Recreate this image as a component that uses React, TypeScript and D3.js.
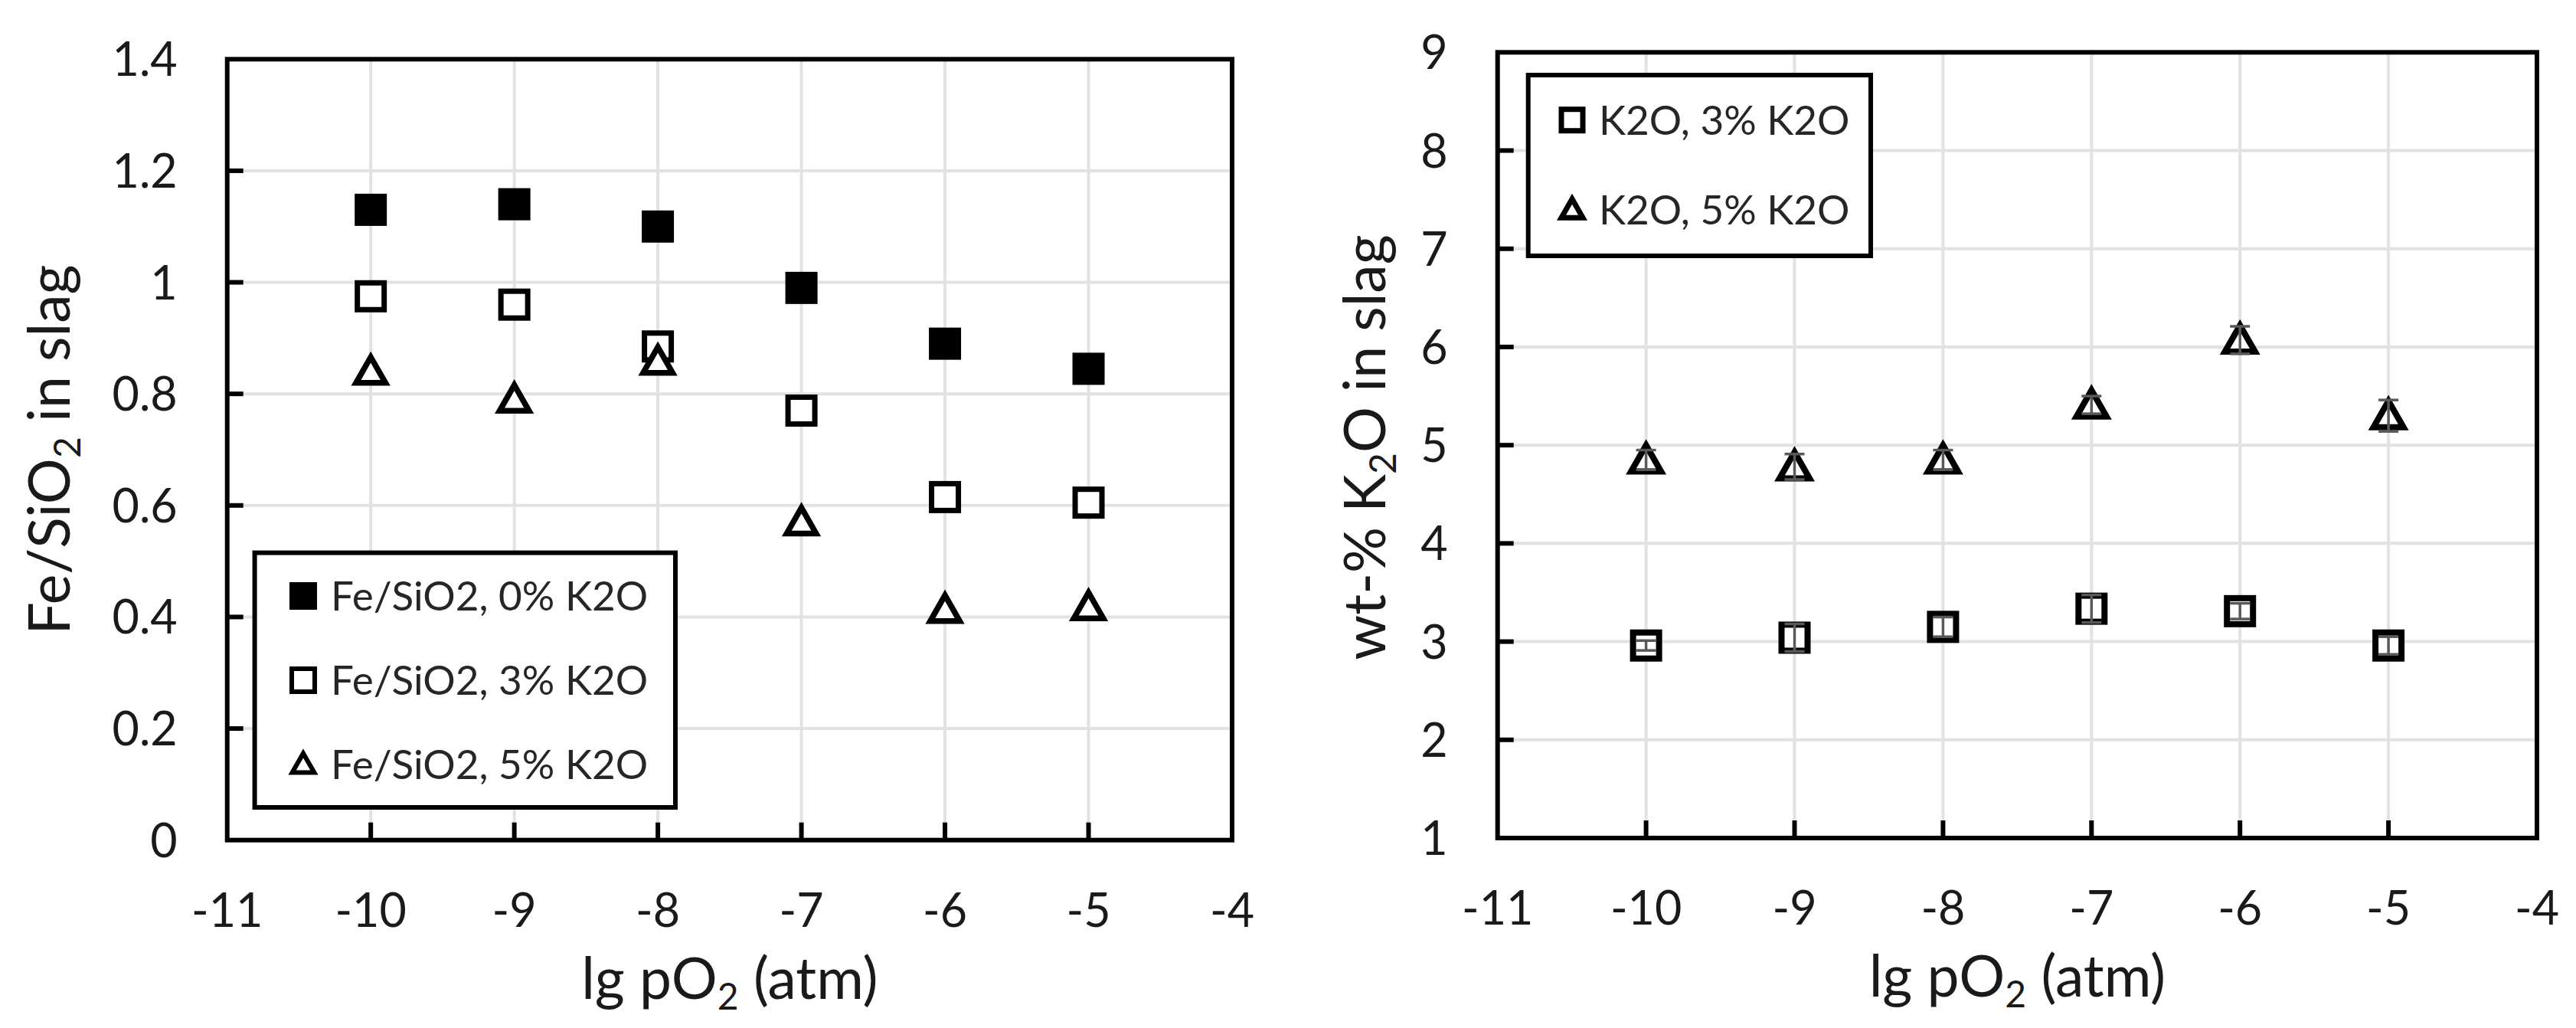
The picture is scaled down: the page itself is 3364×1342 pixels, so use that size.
import React from "react";
import * as d3 from "d3";

// ---------- data ----------
const xTicks = [-11, -10, -9, -8, -7, -6, -5, -4];
const pO2 = [-10, -9, -8, -7, -6, -5];

const leftYTicks = [0, 0.2, 0.4, 0.6, 0.8, 1, 1.2, 1.4];
const rightYTicks = [1, 2, 3, 4, 5, 6, 7, 8, 9];

const feSiO2_0K2O = [1.13, 1.14, 1.1, 0.99, 0.89, 0.845];
const feSiO2_3K2O = [0.975, 0.96, 0.885, 0.77, 0.615, 0.605];
const feSiO2_5K2O = [0.84, 0.79, 0.858, 0.57, 0.413, 0.418];

const k2o_3K2O = [2.96, 3.04, 3.15, 3.335, 3.31, 2.96];
const k2o_3K2O_err = [0.05, 0.14, 0.1, 0.14, 0.08, 0.09];
const k2o_5K2O = [4.85, 4.78, 4.85, 5.41, 6.07, 5.3];
const k2o_5K2O_err = [0.1, 0.13, 0.1, 0.09, 0.14, 0.16];

const leftLegend = ["Fe/SiO2, 0% K2O", "Fe/SiO2, 3% K2O", "Fe/SiO2, 5% K2O"];
const rightLegend = ["K2O, 3% K2O", "K2O, 5% K2O"];

// ---------- styles ----------
const FONT = "Lato, 'Open Sans', 'DejaVu Sans', sans-serif";
const TEXT = "#1a1a1a";
const GRID = "#e2e2e2";
const ERR = "#595959";

type MarkerType = "filledSquare" | "openSquare" | "triangle";

function Marker({ type, cx, cy, size, sw }: { type: MarkerType; cx: number; cy: number; size: number; sw: number }) {
  if (type === "filledSquare") {
    return <rect x={cx - size / 2} y={cy - size / 2} width={size} height={size} fill="#000" />;
  }
  if (type === "openSquare") {
    const s = size - sw;
    return <rect x={cx - s / 2} y={cy - s / 2} width={s} height={s} fill="#fff" stroke="#000" strokeWidth={sw} />;
  }
  const w = size * 0.8;
  const h = size * 0.7;
  const d = `M${cx},${cy - h / 2 - 2} L${cx + w / 2},${cy + h / 2 - 2} L${cx - w / 2},${cy + h / 2 - 2} Z`;
  return <path d={d} fill="#fff" stroke="#000" strokeWidth={sw} strokeLinejoin="miter" />;
}

type Series = {
  values: number[];
  err?: number[];
  type: MarkerType;
  size: number;
  sw: number;
};

type Cfg = {
  x0: number;
  x1: number;
  y0: number;
  y1: number;
  yDomain: [number, number];
  yTicks: number[];
  series: Series[];
  legend: { x: number; y: number; w: number; h: number; rows: number[]; markerX: number; textX: number; size: number; sw: number; types: MarkerType[]; labels: string[] };
  yTitleX: number;
  yTitleCy: number;
  yTitle: [string, string, string];
};

function Chart({ cfg }: { cfg: Cfg }) {
  const x = d3.scaleLinear().domain([xTicks[0], xTicks[xTicks.length - 1]]).range([cfg.x0, cfg.x1]);
  const y = d3.scaleLinear().domain(cfg.yDomain).range([cfg.y1, cfg.y0]);
  const innerX = xTicks.slice(1, -1);
  const innerY = cfg.yTicks.slice(1, -1);
  const lg = cfg.legend;
  const cxMid = (cfg.x0 + cfg.x1) / 2;
  return (
    <g>
      {/* gridlines */}
      {innerX.map((t) => (
        <line key={"gx" + t} x1={x(t)} x2={x(t)} y1={cfg.y0} y2={cfg.y1} stroke={GRID} strokeWidth={4} />
      ))}
      {innerY.map((t) => (
        <line key={"gy" + t} x1={cfg.x0} x2={cfg.x1} y1={y(t)} y2={y(t)} stroke={GRID} strokeWidth={4} />
      ))}
      {/* ticks */}
      {innerX.map((t) => (
        <line key={"tx" + t} x1={x(t)} x2={x(t)} y1={cfg.y1} y2={cfg.y1 - 23} stroke="#000" strokeWidth={6} />
      ))}
      {innerY.map((t) => (
        <line key={"ty" + t} x1={cfg.x0} x2={cfg.x0 + 21} y1={y(t)} y2={y(t)} stroke="#000" strokeWidth={6} />
      ))}
      {/* border */}
      <rect x={cfg.x0} y={cfg.y0} width={cfg.x1 - cfg.x0} height={cfg.y1 - cfg.y0} fill="none" stroke="#000" strokeWidth={6} />
      {/* tick labels */}
      {xTicks.map((t) => (
        <text key={"lx" + t} x={x(t)} y={cfg.y1 + 113} textAnchor="middle" fontSize={61} fill={TEXT} fontFamily={FONT}>
          {String(t)}
        </text>
      ))}
      {cfg.yTicks.map((t) => (
        <text key={"ly" + t} x={cfg.x0 - 65} y={y(t) + 22} textAnchor="end" fontSize={61} fill={TEXT} fontFamily={FONT}>
          {String(t)}
        </text>
      ))}
      {/* x title */}
      <text x={cxMid} y={cfg.y1 + 207} textAnchor="middle" fontSize={75} fill={TEXT} fontFamily={FONT}>
        <tspan>lg pO</tspan>
        <tspan fontSize={48} dy={14}>2</tspan>
        <tspan dy={-14}> (atm)</tspan>
      </text>
      {/* y title */}
      <text transform={`translate(${cfg.yTitleX},${cfg.yTitleCy}) rotate(-90)`} textAnchor="middle" fontSize={75} fill={TEXT} fontFamily={FONT}>
        <tspan>{cfg.yTitle[0]}</tspan>
        <tspan fontSize={48} dy={14}>{cfg.yTitle[1]}</tspan>
        <tspan dy={-14}>{cfg.yTitle[2]}</tspan>
      </text>
      {/* legend */}
      <rect x={lg.x} y={lg.y} width={lg.w} height={lg.h} fill="#fff" stroke="#000" strokeWidth={6} />
      {lg.labels.map((l, i) => (
        <g key={"lg" + i}>
          <Marker type={lg.types[i]} cx={lg.markerX} cy={lg.rows[i]} size={lg.size} sw={lg.sw} />
          <text x={lg.textX} y={lg.rows[i] + 19} fontSize={53} fill="#262626" fontFamily={FONT}>
            {l}
          </text>
        </g>
      ))}
      {/* markers */}
      {cfg.series.map((s, si) => (
        <g key={"s" + si}>
          {s.values.map((v, i) => (
            <Marker key={i} type={s.type} cx={x(pO2[i])} cy={y(v)} size={s.size} sw={s.sw} />
          ))}
          {s.err &&
            s.values.map((v, i) => {
              const e = s.err![i];
              const cx = x(pO2[i]);
              const ya = y(v + e);
              const yb = y(v - e);
              return (
                <g key={"e" + i} stroke={ERR} strokeWidth={3.5}>
                  <line x1={cx} x2={cx} y1={ya} y2={yb} />
                  <line x1={cx - 13} x2={cx + 13} y1={ya} y2={ya} />
                  <line x1={cx - 13} x2={cx + 13} y1={yb} y2={yb} />
                </g>
              );
            })}
        </g>
      ))}
    </g>
  );
}

const leftCfg: Cfg = {
  x0: 296.7,
  x1: 1609,
  y0: 77.3,
  y1: 1096.7,
  yDomain: [0, 1.4],
  yTicks: leftYTicks,
  series: [
    { values: feSiO2_0K2O, type: "filledSquare", size: 42, sw: 6 },
    { values: feSiO2_3K2O, type: "openSquare", size: 42, sw: 7 },
    { values: feSiO2_5K2O, type: "triangle", size: 48, sw: 7.5 },
  ],
  legend: {
    x: 332.6,
    y: 721.6,
    w: 549.4,
    h: 332.4,
    rows: [778, 888, 998],
    markerX: 396,
    textX: 432,
    size: 36,
    sw: 6,
    types: ["filledSquare", "openSquare", "triangle"],
    labels: leftLegend,
  },
  yTitleX: 91,
  yTitleCy: 587,
  yTitle: ["Fe/SiO", "2", " in slag"],
};

const rightCfg: Cfg = {
  x0: 1955.7,
  x1: 3313,
  y0: 68.3,
  y1: 1094,
  yDomain: [1, 9],
  yTicks: rightYTicks,
  series: [
    { values: k2o_3K2O, err: k2o_3K2O_err, type: "openSquare", size: 42, sw: 8 },
    { values: k2o_5K2O, err: k2o_5K2O_err, type: "triangle", size: 49, sw: 8 },
  ],
  legend: {
    x: 1995.7,
    y: 98,
    w: 447.3,
    h: 236,
    rows: [156.7, 274],
    markerX: 2053,
    textX: 2088,
    size: 35,
    sw: 7,
    types: ["openSquare", "triangle"],
    labels: rightLegend,
  },
  yTitleX: 1809,
  yTitleCy: 584,
  yTitle: ["wt-% K", "2", "O in slag"],
};

export default function App() {
  return (
    <svg
      width={3364}
      height={1342}
      viewBox="0 0 3364 1342"
      style={{ position: "absolute", left: 0, top: 0, background: "#fff" }}
    >
      <rect x={0} y={0} width={3364} height={1342} fill="#fff" />
      <Chart cfg={leftCfg} />
      <Chart cfg={rightCfg} />
    </svg>
  );
}
